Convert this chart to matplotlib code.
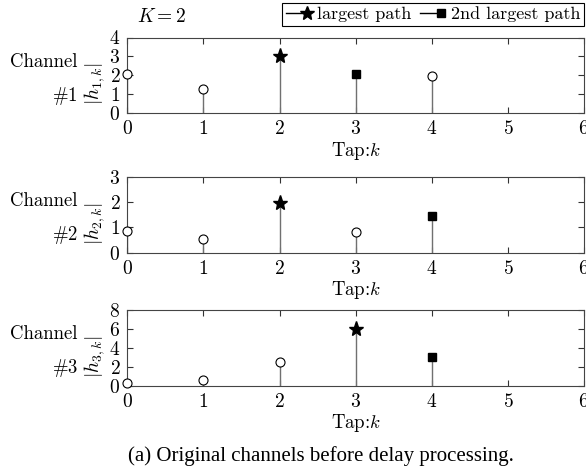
import numpy as np
import matplotlib
matplotlib.use("Agg")
from matplotlib import pyplot as plt
from matplotlib.lines import Line2D
from matplotlib.legend_handler import HandlerBase

plt.rcParams["font.family"] = "cmr10"
plt.rcParams["mathtext.fontset"] = "cm"
plt.rcParams["axes.formatter.use_mathtext"] = True

taps = [0, 1, 2, 3, 4]
ch1 = [2.05, 1.3, 3.0, 2.05, 1.95]
ch2 = [0.85, 0.55, 1.95, 0.8, 1.45]
ch3 = [0.25, 0.6, 2.5, 6.0, 3.0]
channels = [ch1, ch2, ch3]
largest = [2, 2, 3]
second = [3, 4, 4]
ylims = [4, 3, 8]
yticks = [[0, 1, 2, 3, 4], [0, 1, 2, 3], [0, 2, 4, 6, 8]]
xticks = [0, 1, 2, 3, 4, 5, 6]

W, H = 586, 472
left, width = 127.3 / W, 456.7 / W
bottoms = [113.3, 252.7, 385.7]
height = 75.8 / H


class StemHandler(HandlerBase):
    # MATLAB-style stem icon: short line with the marker at its right end
    def create_artists(self, legend, orig_handle, xdescent, ydescent,
                       width, height, fontsize, trans):
        y = height / 2 - ydescent
        x0 = -xdescent
        xm = x0 + 0.78 * width
        line = Line2D([x0, xm], [y, y], color="k", lw=1.0, transform=trans)
        mark = Line2D([xm], [y], ls="none", marker=orig_handle.get_marker(),
                      ms=orig_handle.get_markersize(), color="k", transform=trans)
        return [line, mark]


fig = plt.figure(figsize=(W / 100, H / 100), dpi=100)

for i, vals in enumerate(channels):
    ax = fig.add_axes([left, 1 - bottoms[i] / H, width, height])
    ax.vlines(taps, 0, vals, color="#707070", lw=1.0, zorder=2)
    rest = [k for k in taps if k not in (largest[i], second[i])]
    ax.plot(rest, [vals[k] for k in rest], "o", mfc="white", mec="k",
            ms=6.5, mew=0.8, clip_on=False, zorder=3)
    ax.plot([largest[i]], [vals[largest[i]]], "*", color="k", ms=11,
            clip_on=False, zorder=3)
    ax.plot([second[i]], [vals[second[i]]], "s", color="k", ms=6,
            clip_on=False, zorder=3)
    ax.set_xlim(0, 6)
    ax.set_ylim(0, ylims[i])
    ax.set_xticks(xticks)
    ax.set_yticks(yticks[i])
    ax.tick_params(direction="in", top=True, right=True, length=4, width=0.8,
                   labelsize=14, color="#333333", pad=5)
    for sp in ax.spines.values():
        sp.set_color("#444444")
        sp.set_linewidth(0.8)
    ax.set_xlabel(r"Tap:$k$", fontsize=13.5, labelpad=1)
    ax.text(-0.071, 0.39, r"$|h_{%d,k}|$" % (i + 1), transform=ax.transAxes,
            rotation=90, ha="center", va="center", fontsize=14)
    ax.text(-0.108, 0.68, "Channel", transform=ax.transAxes,
            ha="right", va="center", fontsize=13.5)
    ax.text(-0.108, 0.23, r"$\#%d$" % (i + 1), transform=ax.transAxes,
            ha="right", va="center", fontsize=13.5)

fig.text(162 / W, 1 - 17 / H, r"$K{=}2$", ha="center", va="center", fontsize=14)

handles = [Line2D([], [], marker="*", ms=10, color="k"),
           Line2D([], [], marker="s", ms=6, color="k")]
leg = fig.legend(handles, ["largest path", "2nd largest path"],
                 handler_map={Line2D: StemHandler()}, loc="upper right",
                 bbox_to_anchor=(584 / W, 1 - 3 / H), ncol=2, frameon=True,
                 fancybox=False, edgecolor="k", framealpha=1, borderpad=0.2,
                 handlelength=1.5, handletextpad=0.2, columnspacing=0.5,
                 fontsize=13, borderaxespad=0)
leg.get_frame().set_linewidth(0.8)

fig.text(321 / W, 1 - 456 / H, "(a) Original channels before delay processing.",
         ha="center", va="center", fontsize=15, family="Liberation Serif")

fig.savefig("out.png", dpi=100)
